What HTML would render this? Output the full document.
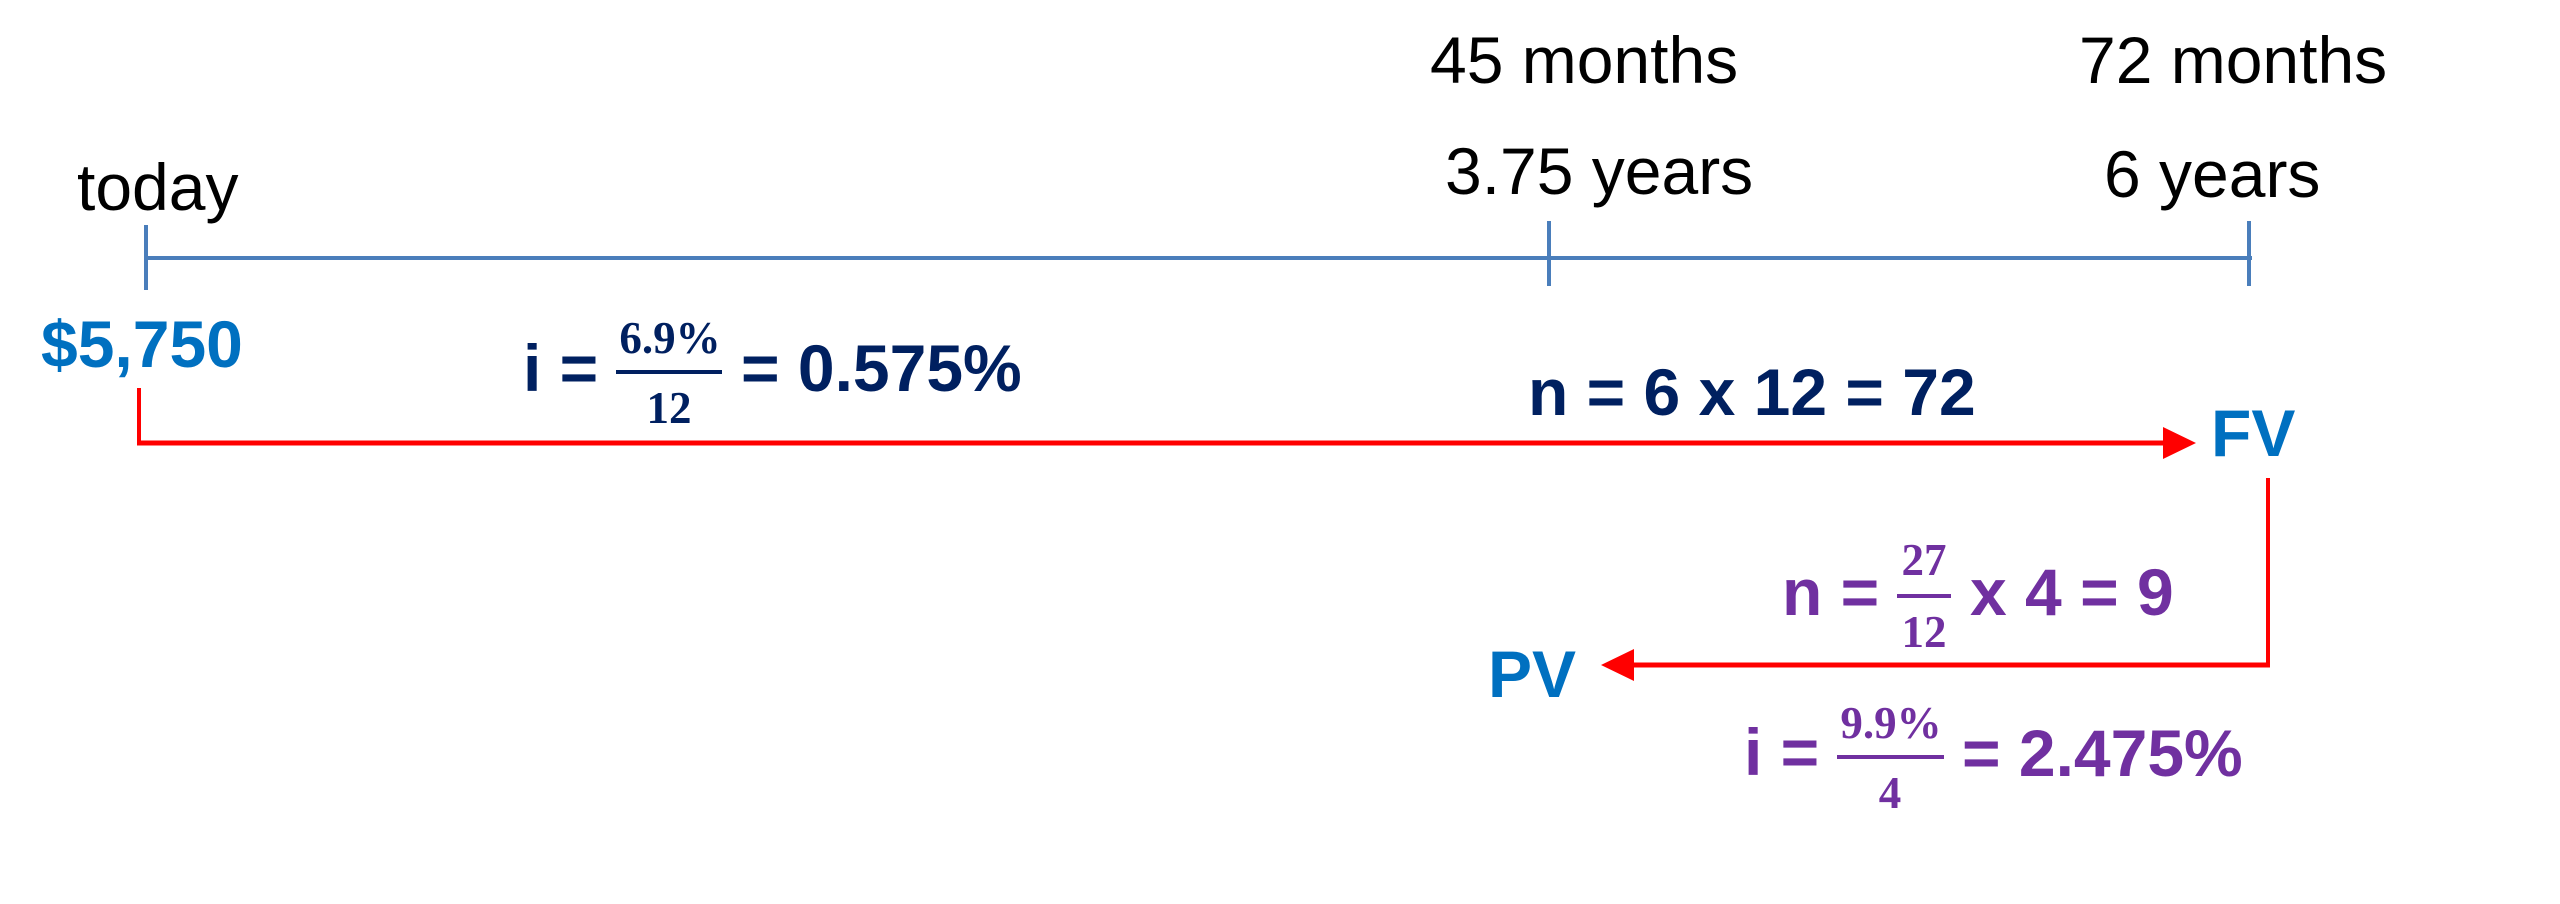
<!DOCTYPE html>
<html>
<head>
<meta charset="utf-8">
<style>
  html, body { margin: 0; padding: 0; background: #ffffff; }
  body { width: 2560px; height: 904px; overflow: hidden; }
  svg { display: block; }
  .sans { font-family: "Liberation Sans", Arial, sans-serif; }
  .serif { font-family: "Liberation Serif", "Times New Roman", serif; }
</style>
</head>
<body>
<svg width="2560" height="904" viewBox="0 0 2560 904" xmlns="http://www.w3.org/2000/svg">
  <rect x="0" y="0" width="2560" height="904" fill="#ffffff"/>

  <!-- Timeline -->
  <g stroke="#4A7EBB" stroke-width="4" fill="none">
    <line x1="146" y1="258" x2="2252" y2="258"/>
    <line x1="146" y1="225" x2="146" y2="290"/>
    <line x1="1549" y1="221" x2="1549" y2="286"/>
    <line x1="2249" y1="221" x2="2249" y2="286"/>
  </g>

  <!-- Timeline labels -->
  <g class="sans" font-size="66" fill="#000000">
    <text x="77" y="210">today</text>
    <text x="1430" y="83">45 months</text>
    <text x="1445" y="194">3.75 years</text>
    <text x="2079" y="83">72 months</text>
    <text x="2104" y="197">6 years</text>
  </g>

  <!-- $5,750 -->
  <text class="sans" x="41" y="367" font-size="66" font-weight="bold" fill="#0070C0">$5,750</text>

  <!-- Top red arrow -->
  <g stroke="#FF0000" fill="none">
    <line x1="139" y1="388" x2="139" y2="445" stroke-width="4"/>
    <line x1="137" y1="443" x2="2166" y2="443" stroke-width="5"/>
  </g>
  <polygon points="2163,427 2196,443 2163,459" fill="#FF0000"/>

  <!-- i = 6.9%/12 = 0.575% -->
  <g fill="#002060">
    <text class="sans" x="523" y="391" font-size="66" font-weight="bold">i =</text>
    <rect x="616" y="370" width="106" height="4"/>
    <text class="serif" x="670" y="353" font-size="45" font-weight="bold" text-anchor="middle">6.9%</text>
    <text class="serif" x="669" y="423" font-size="45" font-weight="bold" text-anchor="middle">12</text>
    <text class="sans" x="741" y="391" font-size="66" font-weight="bold">= 0.575%</text>
  </g>

  <!-- n = 6 x 12 = 72 -->
  <text class="sans" x="1528" y="415" font-size="66" font-weight="bold" fill="#002060">n = 6 x 12 = 72</text>

  <!-- FV -->
  <text class="sans" x="2211" y="456" font-size="66" font-weight="bold" fill="#0070C0">FV</text>

  <!-- Lower red arrow -->
  <g stroke="#FF0000" fill="none">
    <line x1="2268" y1="478" x2="2268" y2="667" stroke-width="4"/>
    <line x1="2270" y1="665" x2="1630" y2="665" stroke-width="5"/>
  </g>
  <polygon points="1634,649 1601,665 1634,681" fill="#FF0000"/>

  <!-- PV -->
  <text class="sans" x="1488" y="697" font-size="66" font-weight="bold" fill="#0070C0">PV</text>

  <!-- n = 27/12 x 4 = 9 -->
  <g fill="#7030A0">
    <text class="sans" x="1782" y="615" font-size="66" font-weight="bold">n =</text>
    <rect x="1897" y="594" width="54" height="4"/>
    <text class="serif" x="1924" y="575" font-size="45" font-weight="bold" text-anchor="middle">27</text>
    <text class="serif" x="1924" y="647" font-size="45" font-weight="bold" text-anchor="middle">12</text>
    <text class="sans" x="1970" y="615" font-size="66" font-weight="bold">x 4 = 9</text>
  </g>

  <!-- i = 9.9%/4 = 2.475% -->
  <g fill="#7030A0">
    <text class="sans" x="1744" y="775" font-size="66" font-weight="bold">i =</text>
    <rect x="1837" y="755" width="107" height="4"/>
    <text class="serif" x="1891" y="738" font-size="45" font-weight="bold" text-anchor="middle">9.9%</text>
    <text class="serif" x="1890" y="808" font-size="45" font-weight="bold" text-anchor="middle">4</text>
    <text class="sans" x="1962" y="776" font-size="66" font-weight="bold">= 2.475%</text>
  </g>
</svg>
</body>
</html>
